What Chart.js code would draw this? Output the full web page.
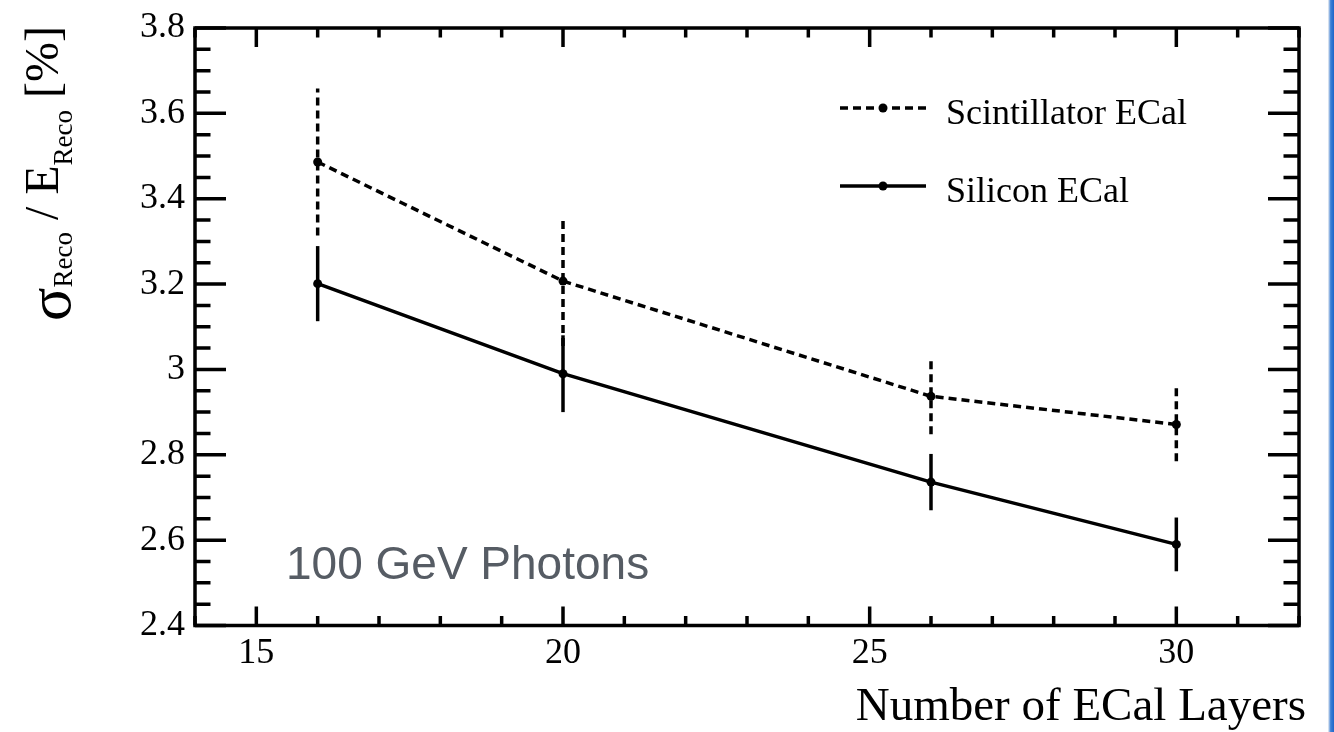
<!DOCTYPE html>
<html>
<head>
<meta charset="utf-8">
<title>ECal resolution vs layers</title>
<script src="https://cdn.jsdelivr.net/npm/chart.js@4.4.1/dist/chart.umd.min.js"></script>
<style>
  html, body { margin: 0; padding: 0; background: #fff; }
  #wrap { position: relative; width: 1334px; height: 732px; overflow: hidden; }
  #edge { position: absolute; right: 0; top: 0; width: 6px; height: 732px;
          background: linear-gradient(to right, rgba(0,0,0,0.04), #3c80d6 45%, #1d66c9); }
</style>
</head>
<body>
<div id="wrap">
  <canvas id="chartCanvas" width="1334" height="732"></canvas>
  <div id="edge"></div>
</div>
<script>
// number of ECal layers
const layers = [16, 20, 26, 30];

// relative resolution [%] and errors
const sciRes = [3.486, 3.207, 2.937, 2.871];
const sciErr = [0.172, 0.152, 0.089, 0.086];
const silRes = [3.201, 2.990, 2.736, 2.590];
const silErr = [0.088, 0.090, 0.066, 0.063];

const xTicks = [15, 20, 25, 30];
const yTicks = [2.4, 2.6, 2.8, 3.0, 3.2, 3.4, 3.6, 3.8];

const serif = '"Liberation Serif", "Times New Roman", serif';
const dash = [8, 5];
const lw = 3.5;

// vertical error bars under the points
const errorBars = {
  id: 'errorBars',
  beforeDatasetsDraw(chart) {
    const ctx = chart.ctx;
    const xs = chart.scales.x, ys = chart.scales.y;
    chart.data.datasets.forEach(ds => {
      ctx.save();
      ctx.strokeStyle = '#000';
      ctx.lineWidth = lw;
      ctx.setLineDash(ds.borderDash || []);
      ds.data.forEach((p, i) => {
        const px = xs.getPixelForValue(p.x);
        ctx.beginPath();
        ctx.moveTo(px, ys.getPixelForValue(p.y - ds.errors[i]));
        ctx.lineTo(px, ys.getPixelForValue(p.y + ds.errors[i]));
        ctx.stroke();
      });
      ctx.restore();
    });
  }
};

// ROOT style frame with ticks on all four sides, legend and labels
const frame = {
  id: 'frame',
  afterDraw(chart) {
    const ctx = chart.ctx;
    const a = chart.chartArea;
    const xs = chart.scales.x, ys = chart.scales.y;
    ctx.save();
    ctx.strokeStyle = '#000';
    ctx.lineWidth = lw;
    ctx.strokeRect(a.left, a.top, a.right - a.left, a.bottom - a.top);

    ctx.beginPath();
    for (let v = Math.ceil(xs.min); v <= xs.max; v++) {
      const px = xs.getPixelForValue(v);
      const len = v % 5 === 0 ? 19 : 9.5;
      ctx.moveTo(px, a.bottom); ctx.lineTo(px, a.bottom - len);
      ctx.moveTo(px, a.top); ctx.lineTo(px, a.top + len);
    }
    for (let k = Math.round(ys.min / 0.05); k <= Math.round(ys.max / 0.05); k++) {
      const py = ys.getPixelForValue(k * 0.05);
      const len = k % 4 === 0 ? 31 : 15.5;
      ctx.moveTo(a.left, py); ctx.lineTo(a.left + len, py);
      ctx.moveTo(a.right, py); ctx.lineTo(a.right - len, py);
    }
    ctx.stroke();

    // legend
    const items = [
      { label: 'Scintillator ECal', dash: dash, y: 108 },
      { label: 'Silicon ECal', dash: [], y: 186 }
    ];
    items.forEach(it => {
      ctx.setLineDash(it.dash);
      ctx.beginPath();
      ctx.moveTo(840, it.y); ctx.lineTo(926, it.y);
      ctx.stroke();
      ctx.setLineDash([]);
      ctx.beginPath();
      ctx.arc(883, it.y, 4.5, 0, Math.PI * 2);
      ctx.fillStyle = '#000';
      ctx.fill();
      ctx.font = '36px ' + serif;
      ctx.textBaseline = 'alphabetic';
      ctx.textAlign = 'left';
      ctx.fillText(it.label, 946, it.y + 16);
    });

    // beam label
    ctx.font = '46px "Liberation Sans", Arial, sans-serif';
    ctx.fillStyle = '#565c64';
    ctx.fillText('100 GeV Photons', 286, 579);

    // x axis title
    ctx.fillStyle = '#000';
    ctx.font = '47px ' + serif;
    ctx.textAlign = 'right';
    ctx.fillText('Number of ECal Layers', 1306, 720);

    // y axis title, rotated, with subscripts
    ctx.translate(58, 321);
    ctx.rotate(-Math.PI / 2);
    ctx.textAlign = 'left';
    let x = 0;
    const part = (txt, size, dy) => {
      ctx.font = size + 'px ' + serif;
      ctx.fillText(txt, x, dy);
      x += ctx.measureText(txt).width;
    };
    part('\u03c3', 62, 12);
    part('Reco', 27, 14);
    part(' / ', 48, 0);
    part('E', 48, 0);
    part('Reco', 27, 14);
    part(' [%]', 48, 0);
    ctx.restore();
  }
};

const chart = new Chart(document.getElementById('chartCanvas'), {
  type: 'line',
  data: {
    datasets: [
      {
        label: 'Scintillator ECal',
        data: layers.map((v, i) => ({ x: v, y: sciRes[i] })),
        errors: sciErr,
        borderColor: '#000',
        borderWidth: lw,
        borderDash: dash,
        pointRadius: 4.5,
        pointBorderWidth: 0,
        pointBackgroundColor: '#000',
        tension: 0,
        fill: false
      },
      {
        label: 'Silicon ECal',
        data: layers.map((v, i) => ({ x: v, y: silRes[i] })),
        errors: silErr,
        borderColor: '#000',
        borderWidth: lw,
        pointRadius: 4.5,
        pointBorderWidth: 0,
        pointBackgroundColor: '#000',
        tension: 0,
        fill: false
      }
    ]
  },
  options: {
    responsive: false,
    animation: false,
    layout: { padding: { left: 0, top: 24.5, right: 35, bottom: 0 } },
    plugins: { legend: { display: false }, tooltip: { enabled: false } },
    scales: {
      x: {
        type: 'linear',
        min: 14,
        max: 32,
        afterBuildTicks: s => { s.ticks = xTicks.map(v => ({ value: v })); },
        afterFit: s => { s.height = 106.5; },
        grid: { display: false, drawTicks: false },
        border: { display: false },
        ticks: {
          color: '#000',
          padding: 10,
          maxRotation: 0,
          font: { family: serif, size: 36, lineHeight: 1 }
        }
      },
      y: {
        type: 'linear',
        min: 2.4,
        max: 3.8,
        afterBuildTicks: s => { s.ticks = yTicks.map(v => ({ value: v })); },
        afterFit: s => { s.width = 195; },
        grid: { display: false, drawTicks: false },
        border: { display: false },
        ticks: {
          color: '#000',
          padding: 10,
          callback: v => String(+v.toFixed(1)),
          font: { family: serif, size: 36, lineHeight: 1 }
        }
      }
    }
  },
  plugins: [errorBars, frame]
});
</script>
</body>
</html>
